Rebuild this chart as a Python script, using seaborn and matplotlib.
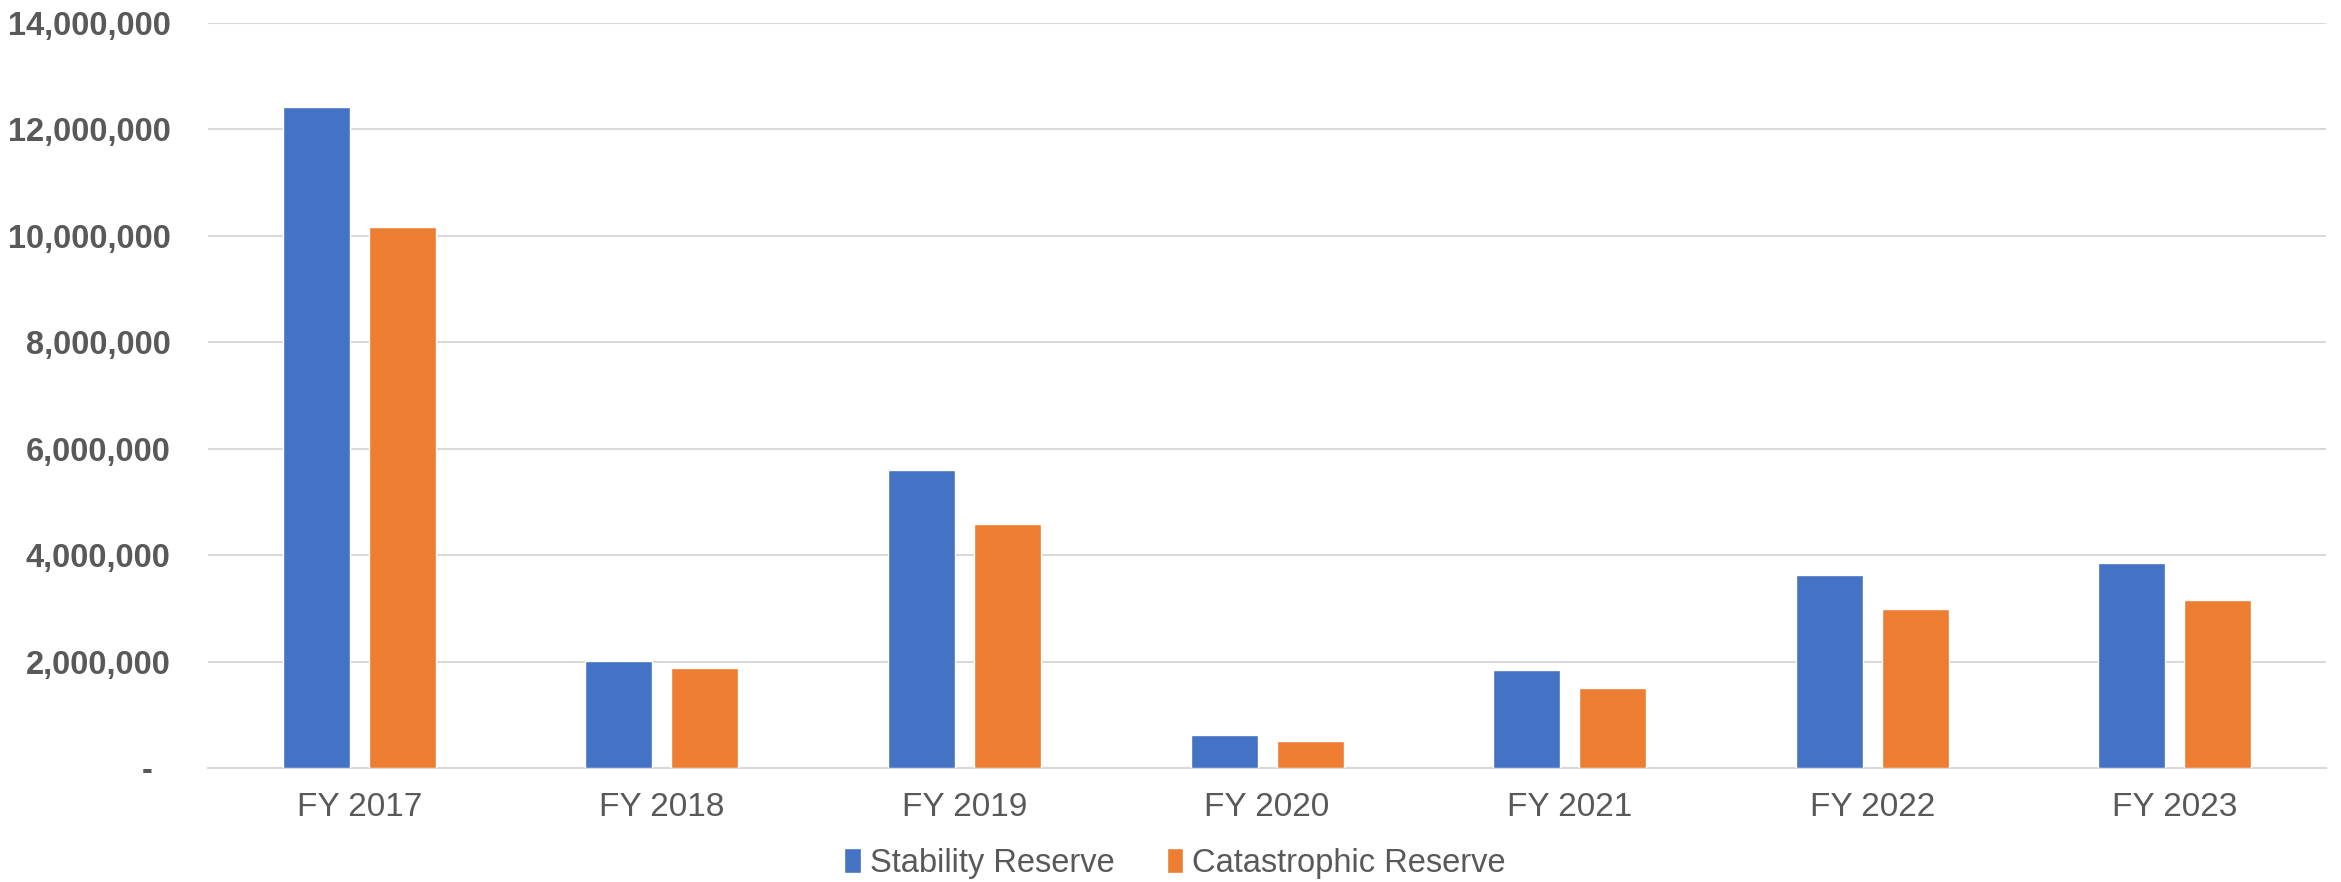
#!/usr/bin/env python3
"""Stability vs catastrophic reserve by fiscal year, grouped bars."""

import matplotlib
matplotlib.use("Agg")
import matplotlib.pyplot as plt
from matplotlib.ticker import FuncFormatter, MultipleLocator
import pandas as pd
import seaborn as sns

YEARS = ["FY 2017", "FY 2018", "FY 2019", "FY 2020", "FY 2021", "FY 2022", "FY 2023"]
STABILITY = [12420000, 2005000, 5600000, 620000, 1836000, 3635000, 3860000]
CATASTROPHIC = [10160000, 1875000, 4580000, 510000, 1500000, 2980000, 3160000]
SERIES = ["Stability Reserve", "Catastrophic Reserve"]
COLORS = ["#4472C4", "#ED7D31"]

TEXT_GRAY = "#595959"
GRID_GRAY = "#D9D9D9"


def build_frame() -> pd.DataFrame:
    rows = []
    for year, s, c in zip(YEARS, STABILITY, CATASTROPHIC):
        rows.append({"year": year, "series": SERIES[0], "value": s})
        rows.append({"year": year, "series": SERIES[1], "value": c})
    return pd.DataFrame(rows)


def y_label(x, _pos):
    if abs(x) < 1:
        return "-  "
    return f"{x:,.0f}"


def main() -> None:
    sns.set_theme(style="white")
    plt.rcParams["font.family"] = ["Liberation Sans", "DejaVu Sans"]

    df = build_frame()
    fig = plt.figure(figsize=(23.41, 8.82), dpi=100)
    ax = fig.add_axes([0.0889, 0.1293, 0.9047, 0.8447])

    sns.barplot(
        data=df,
        x="year",
        y="value",
        hue="series",
        hue_order=SERIES,
        palette=COLORS,
        width=0.568,
        gap=0.22,
        saturation=1,
        errorbar=None,
        ax=ax,
        zorder=3,
    )

    ax.set_ylim(0, 14000000)
    ax.set_xlim(-0.5, len(YEARS) - 0.5)
    ax.yaxis.set_major_locator(MultipleLocator(2000000))
    ax.yaxis.set_major_formatter(FuncFormatter(y_label))
    ax.grid(axis="y", color=GRID_GRAY, linewidth=1.5, zorder=0)
    ax.set_axisbelow(True)
    for side in ["top", "right", "left"]:
        ax.spines[side].set_visible(False)
    ax.spines["bottom"].set_color(GRID_GRAY)
    ax.spines["bottom"].set_linewidth(1.5)

    ax.set_xlabel("")
    ax.set_ylabel("")
    ax.tick_params(axis="y", length=0, pad=27, labelsize=23.5, labelcolor=TEXT_GRAY)
    ax.tick_params(axis="x", length=0, pad=17, labelsize=24, labelcolor=TEXT_GRAY)
    for lbl in ax.get_yticklabels():
        lbl.set_fontweight("bold")

    handles, labels = ax.get_legend_handles_labels()
    ax.legend(
        handles,
        labels,
        loc="center",
        bbox_to_anchor=(0.4566, -0.128),
        ncol=2,
        frameon=False,
        fontsize=23.5,
        labelcolor=TEXT_GRAY,
        handlelength=0.5,
        handleheight=0.77,
        handletextpad=0.28,
        columnspacing=1.6,
    )

    fig.savefig("out.png", dpi=100, facecolor="white")
    plt.close(fig)


if __name__ == "__main__":
    main()
